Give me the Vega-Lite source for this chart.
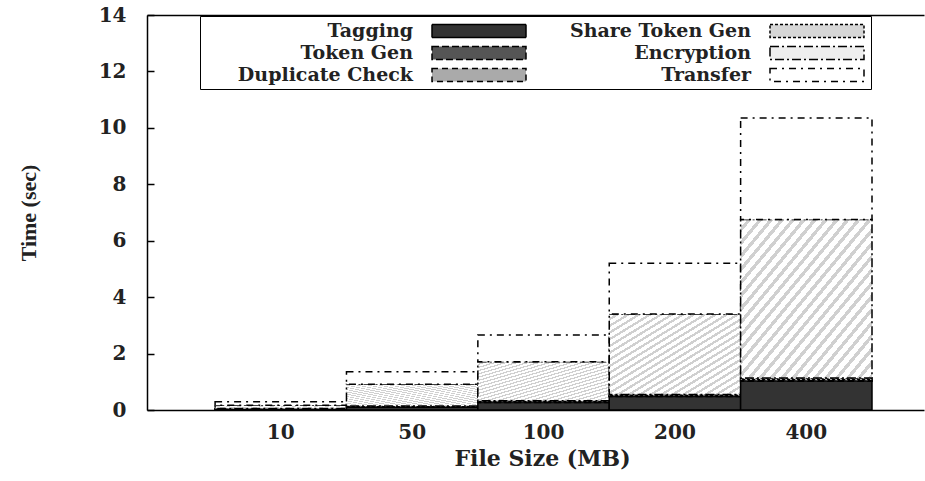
{
  "$schema": "https://vega.github.io/schema/vega-lite/v6.json",
  "autosize": "none",
  "width": 777,
  "height": 395,
  "padding": {"left": 147, "top": 15, "right": 1, "bottom": 71},
  "background": "white",
  "config": {
    "view": {"stroke": null},
    "axis": {"domainColor": "black", "domainWidth": 1.5, "tickColor": "black", "tickWidth": 1.5, "grid": false,
      "labelFont": "DejaVu Serif", "labelFontWeight": "bold", "labelFontSize": 20, "labelColor": "#222",
      "titleColor": "#222"},
    "legend": {"labelFont": "DejaVu Serif", "labelFontWeight": "bold", "labelFontSize": 19, "labelColor": "#222", "labelLimit": 400}
  },
  "data": {"values": [
    {"size": "10", "step": "Tagging", "k": 1, "t": 0.03},
    {"size": "10", "step": "Token Gen", "k": 2, "t": 0.005},
    {"size": "10", "step": "Duplicate Check", "k": 3, "t": 0.005},
    {"size": "10", "step": "Share Token Gen", "k": 4, "t": 0.01},
    {"size": "10", "step": "Encryption", "k": 5, "t": 0.12},
    {"size": "10", "step": "Transfer", "k": 6, "t": 0.12},
    {"size": "50", "step": "Tagging", "k": 1, "t": 0.10},
    {"size": "50", "step": "Token Gen", "k": 2, "t": 0.01},
    {"size": "50", "step": "Duplicate Check", "k": 3, "t": 0.01},
    {"size": "50", "step": "Share Token Gen", "k": 4, "t": 0.02},
    {"size": "50", "step": "Encryption", "k": 5, "t": 0.77},
    {"size": "50", "step": "Transfer", "k": 6, "t": 0.45},
    {"size": "100", "step": "Tagging", "k": 1, "t": 0.27},
    {"size": "100", "step": "Token Gen", "k": 2, "t": 0.02},
    {"size": "100", "step": "Duplicate Check", "k": 3, "t": 0.01},
    {"size": "100", "step": "Share Token Gen", "k": 4, "t": 0.03},
    {"size": "100", "step": "Encryption", "k": 5, "t": 1.38},
    {"size": "100", "step": "Transfer", "k": 6, "t": 0.95},
    {"size": "200", "step": "Tagging", "k": 1, "t": 0.48},
    {"size": "200", "step": "Token Gen", "k": 2, "t": 0.02},
    {"size": "200", "step": "Duplicate Check", "k": 3, "t": 0.01},
    {"size": "200", "step": "Share Token Gen", "k": 4, "t": 0.04},
    {"size": "200", "step": "Encryption", "k": 5, "t": 2.85},
    {"size": "200", "step": "Transfer", "k": 6, "t": 1.8},
    {"size": "400", "step": "Tagging", "k": 1, "t": 1.02},
    {"size": "400", "step": "Token Gen", "k": 2, "t": 0.03},
    {"size": "400", "step": "Duplicate Check", "k": 3, "t": 0.02},
    {"size": "400", "step": "Share Token Gen", "k": 4, "t": 0.06},
    {"size": "400", "step": "Encryption", "k": 5, "t": 5.62},
    {"size": "400", "step": "Transfer", "k": 6, "t": 3.6}
  ]},
  "resolve": {"axis": {"x": "independent"}},
  "layer": [
    {
      "mark": {"type": "bar", "stroke": "black", "strokeWidth": 1.5},
      "encoding": {
        "x": {"field": "size", "type": "nominal", "sort": ["10", "50", "100", "200", "400"],
          "scale": {"paddingInner": 0, "paddingOuter": 0.457, "align": 0.567},
          "axis": {"labelAngle": 0, "ticks": false, "labelPadding": 12, "title": "File Size (MB)",
            "titleFont": "DejaVu Serif", "titleFontWeight": "bold", "titleFontSize": 22, "titlePadding": 6, "titleX": 395}},
        "y": {"field": "t", "type": "quantitative", "stack": "zero",
          "scale": {"domain": [0, 14], "nice": false},
          "axis": {"values": [0, 2, 4, 6, 8, 10, 12, 14], "tickSize": -7, "labelPadding": 28, "title": "Time (sec)",
            "titleFont": "Liberation Serif", "titleFontWeight": "bold", "titleFontSize": 22, "titlePadding": 58}},
        "order": {"field": "k", "type": "quantitative"},
        "fill": {"field": "step", "type": "nominal",
          "scale": {"domain": ["Tagging", "Token Gen", "Duplicate Check", "Share Token Gen", "Encryption", "Transfer"],
            "range": ["#333333", "#555555", "#aaaaaa", "#d6d6d6", "#eeeeee", "#ffffff"]},
          "condition": {"test": "datum.step === 'Encryption'", "value": {"gradient": "linear", "x1": 0, "y1": 0, "x2": 1, "y2": 1, "stops": [
            {"offset": 0, "color": "#ffffff"}, {"offset": 0.025, "color": "#ffffff"}, {"offset": 0.025, "color": "#d0d0d0"}, {"offset": 0.04167, "color": "#d0d0d0"},
            {"offset": 0.04167, "color": "#ffffff"}, {"offset": 0.06667, "color": "#ffffff"}, {"offset": 0.06667, "color": "#d0d0d0"}, {"offset": 0.08333, "color": "#d0d0d0"},
            {"offset": 0.08333, "color": "#ffffff"}, {"offset": 0.10833, "color": "#ffffff"}, {"offset": 0.10833, "color": "#d0d0d0"}, {"offset": 0.125, "color": "#d0d0d0"},
            {"offset": 0.125, "color": "#ffffff"}, {"offset": 0.15, "color": "#ffffff"}, {"offset": 0.15, "color": "#d0d0d0"}, {"offset": 0.16667, "color": "#d0d0d0"},
            {"offset": 0.16667, "color": "#ffffff"}, {"offset": 0.19167, "color": "#ffffff"}, {"offset": 0.19167, "color": "#d0d0d0"}, {"offset": 0.20833, "color": "#d0d0d0"},
            {"offset": 0.20833, "color": "#ffffff"}, {"offset": 0.23333, "color": "#ffffff"}, {"offset": 0.23333, "color": "#d0d0d0"}, {"offset": 0.25, "color": "#d0d0d0"},
            {"offset": 0.25, "color": "#ffffff"}, {"offset": 0.275, "color": "#ffffff"}, {"offset": 0.275, "color": "#d0d0d0"}, {"offset": 0.29167, "color": "#d0d0d0"},
            {"offset": 0.29167, "color": "#ffffff"}, {"offset": 0.31667, "color": "#ffffff"}, {"offset": 0.31667, "color": "#d0d0d0"}, {"offset": 0.33333, "color": "#d0d0d0"},
            {"offset": 0.33333, "color": "#ffffff"}, {"offset": 0.35833, "color": "#ffffff"}, {"offset": 0.35833, "color": "#d0d0d0"}, {"offset": 0.375, "color": "#d0d0d0"},
            {"offset": 0.375, "color": "#ffffff"}, {"offset": 0.4, "color": "#ffffff"}, {"offset": 0.4, "color": "#d0d0d0"}, {"offset": 0.41667, "color": "#d0d0d0"},
            {"offset": 0.41667, "color": "#ffffff"}, {"offset": 0.44167, "color": "#ffffff"}, {"offset": 0.44167, "color": "#d0d0d0"}, {"offset": 0.45833, "color": "#d0d0d0"},
            {"offset": 0.45833, "color": "#ffffff"}, {"offset": 0.48333, "color": "#ffffff"}, {"offset": 0.48333, "color": "#d0d0d0"}, {"offset": 0.5, "color": "#d0d0d0"},
            {"offset": 0.5, "color": "#ffffff"}, {"offset": 0.525, "color": "#ffffff"}, {"offset": 0.525, "color": "#d0d0d0"}, {"offset": 0.54167, "color": "#d0d0d0"},
            {"offset": 0.54167, "color": "#ffffff"}, {"offset": 0.56667, "color": "#ffffff"}, {"offset": 0.56667, "color": "#d0d0d0"}, {"offset": 0.58333, "color": "#d0d0d0"},
            {"offset": 0.58333, "color": "#ffffff"}, {"offset": 0.60833, "color": "#ffffff"}, {"offset": 0.60833, "color": "#d0d0d0"}, {"offset": 0.625, "color": "#d0d0d0"},
            {"offset": 0.625, "color": "#ffffff"}, {"offset": 0.65, "color": "#ffffff"}, {"offset": 0.65, "color": "#d0d0d0"}, {"offset": 0.66667, "color": "#d0d0d0"},
            {"offset": 0.66667, "color": "#ffffff"}, {"offset": 0.69167, "color": "#ffffff"}, {"offset": 0.69167, "color": "#d0d0d0"}, {"offset": 0.70833, "color": "#d0d0d0"},
            {"offset": 0.70833, "color": "#ffffff"}, {"offset": 0.73333, "color": "#ffffff"}, {"offset": 0.73333, "color": "#d0d0d0"}, {"offset": 0.75, "color": "#d0d0d0"},
            {"offset": 0.75, "color": "#ffffff"}, {"offset": 0.775, "color": "#ffffff"}, {"offset": 0.775, "color": "#d0d0d0"}, {"offset": 0.79167, "color": "#d0d0d0"},
            {"offset": 0.79167, "color": "#ffffff"}, {"offset": 0.81667, "color": "#ffffff"}, {"offset": 0.81667, "color": "#d0d0d0"}, {"offset": 0.83333, "color": "#d0d0d0"},
            {"offset": 0.83333, "color": "#ffffff"}, {"offset": 0.85833, "color": "#ffffff"}, {"offset": 0.85833, "color": "#d0d0d0"}, {"offset": 0.875, "color": "#d0d0d0"},
            {"offset": 0.875, "color": "#ffffff"}, {"offset": 0.9, "color": "#ffffff"}, {"offset": 0.9, "color": "#d0d0d0"}, {"offset": 0.91667, "color": "#d0d0d0"},
            {"offset": 0.91667, "color": "#ffffff"}, {"offset": 0.94167, "color": "#ffffff"}, {"offset": 0.94167, "color": "#d0d0d0"}, {"offset": 0.95833, "color": "#d0d0d0"},
            {"offset": 0.95833, "color": "#ffffff"}, {"offset": 0.98333, "color": "#ffffff"}, {"offset": 0.98333, "color": "#d0d0d0"}, {"offset": 1, "color": "#d0d0d0"}
          ]}},
          "legend": {"title": null, "orient": "none", "legendX": 53, "legendY": 1, "columns": 2,
            "strokeColor": "black", "fillColor": "white", "padding": 4, "rowPadding": 1, "columnPadding": 13,
            "symbolType": "M21.7,-0.65H31.1V0.65H21.7Z", "symbolSize": 400, "symbolStrokeColor": "black", "symbolStrokeWidth": 1.5,
            "labelAlign": "right", "labelOffset": 187}},
        "strokeDash": {"field": "step", "type": "nominal",
          "scale": {"domain": ["Tagging", "Token Gen", "Duplicate Check", "Share Token Gen", "Encryption", "Transfer"],
            "range": [[1, 0], [7, 3], [6, 4], [3, 2], [9, 3, 2, 3], [7, 5, 2, 5]]},
          "legend": {"title": null}}
      }
    },
    {
      "mark": {"type": "bar", "opacity": 0},
      "encoding": {
        "x": {"field": "size", "type": "nominal", "sort": ["10", "50", "100", "200", "400"],
          "axis": {"orient": "top", "labels": false, "title": null, "tickSize": -6}}
      }
    }
  ]
}
